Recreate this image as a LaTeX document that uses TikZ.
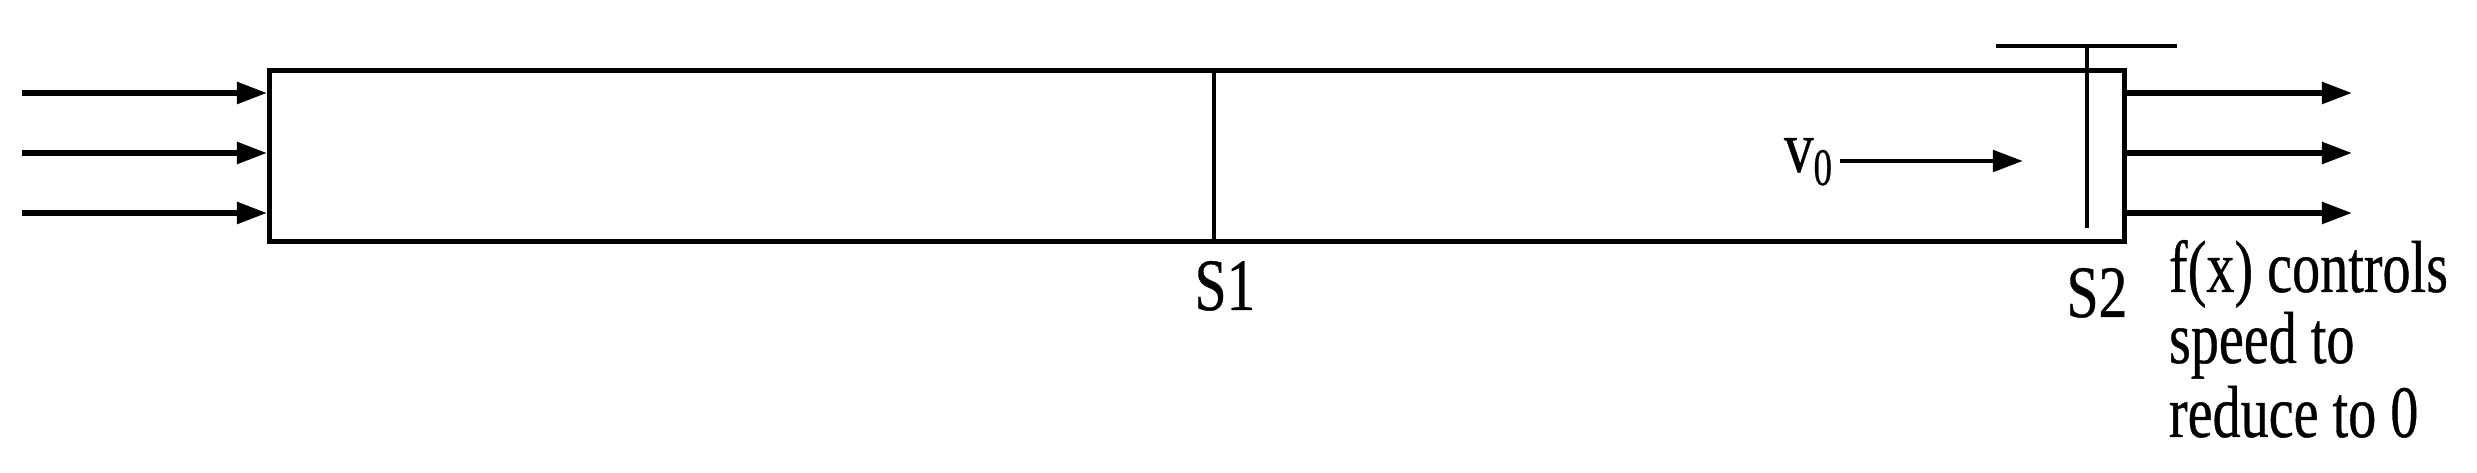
\documentclass[tikz,border=0pt]{standalone}
\usepackage{fontspec}
\setmainfont{Liberation Serif}
\newfontfamily\heavyserif{Liberation Serif}[FakeBold=0.6]
\usetikzlibrary{arrows.meta}
\begin{document}
\begin{tikzpicture}[x=0.01cm,y=-0.01cm,
  boxline/.style={line width=1.35pt},
  thin line/.style={line width=1.15pt},
  flow/.style={line width=1.55pt, -{Triangle[length=0.3cm,width=0.21cm]}},
  lbl/.style={font=\heavyserif\fontsize{21}{20.6}\selectfont, inner sep=0pt, outer sep=0pt}]
\useasboundingbox (0,0) rectangle (2477,473);
% tube
\node[draw, boxline, inner sep=0pt, minimum width=18.54cm, minimum height=1.71cm, anchor=north west] (tube) at (267,68) {};
% inflow arrows
\coordinate (in1) at (22,93);
\coordinate (in2) at (22,153);
\coordinate (in3) at (22,213);
\draw[flow] (in1) -- (in1 -| tube.west);
\draw[flow] (in2) -- (in2 -| tube.west);
\draw[flow] (in3) -- (in3 -| tube.west);
% outflow arrows
\coordinate (out1) at (2352,93);
\coordinate (out2) at (2352,153);
\coordinate (out3) at (2352,213);
\draw[flow] (out1 -| tube.east) -- (out1);
\draw[flow] (out2 -| tube.east) -- (out2);
\draw[flow] (out3 -| tube.east) -- (out3);
% section S1
\coordinate (s1) at (1214,0);
\draw[thin line] (s1 |- tube.north) -- (s1 |- tube.south);
% gate S2
\coordinate (g1) at (1996,46);
\coordinate (g2) at (2177,46);
\coordinate (gt) at (2087,46);
\coordinate (gb) at (2087,228);
\draw[thin line] (g1) -- (g2);
\draw[thin line] (gt) -- (gb);
% velocity arrow
\coordinate (v0s) at (1840,161);
\coordinate (v0e) at (2023,161);
\draw[flow, line width=1.4pt] (v0s) -- (v0e);
\node[lbl, anchor=base west] (v0) at (1784,172) {\scalebox{0.8}[1]{v}\raisebox{-0.13cm}{\scalebox{0.7}[1]{\fontsize{15}{15}\selectfont 0}}};
% labels
\node[lbl, anchor=base] (S1) at (1225,310) {\scalebox{0.78}[1]{S1}};
\node[lbl, anchor=base] (S2) at (2097,317) {\scalebox{0.78}[1]{S2}};
\node[lbl, anchor=base west] (fx) at (2169,292) {\scalebox{0.76}[1]{f(x) controls}};
\node[lbl, anchor=base west] (fx2) at (2169,363) {\scalebox{0.76}[1]{speed to}};
\node[lbl, anchor=base west] (fx3) at (2169,437) {\scalebox{0.76}[1]{reduce to 0}};
\end{tikzpicture}
\end{document}
